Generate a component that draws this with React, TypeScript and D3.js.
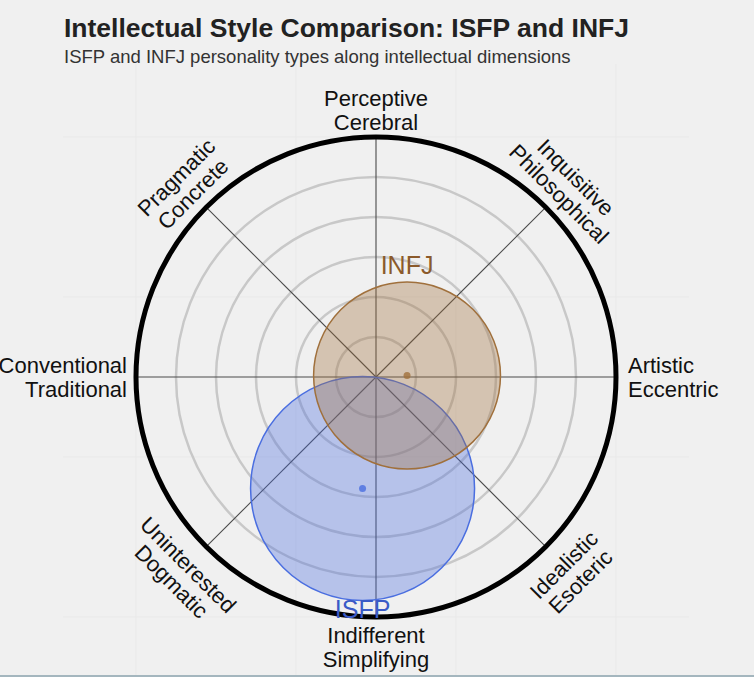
import React from "react";
import * as d3 from "d3";

// ---- data ----
const dimensionLabels: string[][] = [
  ["Artistic", "Eccentric"],
  ["Inquisitive", "Philosophical"],
  ["Perceptive", "Cerebral"],
  ["Pragmatic", "Concrete"],
  ["Conventional", "Traditional"],
  ["Uninterested", "Dogmatic"],
  ["Indifferent", "Simplifying"],
  ["Idealistic", "Esoteric"],
];
const axisAngles = [0, 45, 90, 135, 180, 225, 270, 315];
const ringLevels = [0.25, 0.5, 0.75, 1.0, 1.25];
const outerLevel = 1.5;
const gridLevels = [-1.5, -0.5, 0.5, 1.5];

const typeNames = ["INFJ", "ISFP"];
const typeX = [0.194, -0.084];
const typeY = [0.009, -0.697];
const typeR = [0.584, 0.7];
const typeColors = ["#a0703c", "#4a6ee0"];
const typeTextColors = ["#8b5a2b", "#3a5bc7"];
const drawOrder = [1, 0];

const W = 754;
const H = 677;
const cx = 376;
const cy = 377;

export default function App() {
  const r = d3.scaleLinear().domain([0, outerLevel]).range([0, 240]);
  const px = (v: number) => cx + r(v);
  const py = (v: number) => cy - r(v);
  const font = "'Liberation Sans', Arial, sans-serif";
  const rad = (a: number) => (a * Math.PI) / 180;

  const labelEls = dimensionLabels.map((lines, i) => {
    const a = axisAngles[i];
    const fs = 22;
    const lh = 23.5;
    if (a === 0 || a === 180) {
      const x = a === 0 ? cx + 252 : cx - 249;
      return (
        <text key={i} fontFamily={font} fontSize={fs} fill="#111" textAnchor={a === 0 ? "start" : "end"}>
          {lines.map((l, j) => (
            <tspan key={j} x={x} y={cy - 4 + j * lh}>{l}</tspan>
          ))}
        </text>
      );
    }
    if (a === 90 || a === 270) {
      const y0 = a === 90 ? cy - 271 : cy + 266;
      return (
        <text key={i} fontFamily={font} fontSize={fs} fill="#111" textAnchor="middle">
          {lines.map((l, j) => (
            <tspan key={j} x={cx} y={y0 + j * lh}>{l}</tspan>
          ))}
        </text>
      );
    }
    const rr = a < 180 ? 271 : 277;
    const bx = cx + rr * Math.cos(rad(a));
    const by = cy - rr * Math.sin(rad(a));
    const rot = a === 45 || a === 225 ? 45 : -45;
    return (
      <g key={i} transform={`translate(${bx},${by}) rotate(${rot})`}>
        <text fontFamily={font} fontSize={fs} fill="#111" textAnchor="middle" dominantBaseline="central">
          {lines.map((l, j) => (
            <tspan key={j} x={0} y={(j - 0.5) * lh}>{l}</tspan>
          ))}
        </text>
      </g>
    );
  });

  return (
    <svg width={W} height={H} style={{ position: "absolute", left: 0, top: 0 }}>
      <rect x={0} y={0} width={W} height={H} fill="#f0f0f0" />
      {/* faint background grid */}
      {gridLevels.map((g, i) => (
        <g key={i}>
          <line x1={px(g)} x2={px(g)} y1={cy - 313} y2={cy + 313} stroke="#e9e9e9" strokeWidth={1} />
          <line x1={cx - 313} x2={cx + 313} y1={py(g)} y2={py(g)} stroke="#e9e9e9" strokeWidth={1} />
        </g>
      ))}
      {/* rings */}
      {ringLevels.map((l, i) => (
        <circle key={i} cx={cx} cy={cy} r={r(l)} fill="none" stroke="#c8c8c8" strokeWidth={2.5} />
      ))}
      {/* spokes */}
      {axisAngles.map((a, i) => (
        <line key={i} x1={cx} y1={cy}
          x2={cx + r(outerLevel) * Math.cos(rad(a))}
          y2={cy - r(outerLevel) * Math.sin(rad(a))}
          stroke="#4a4a4a" strokeWidth={1.1} />
      ))}
      {/* type circles */}
      {drawOrder.map((k) => (
        <circle key={k} cx={px(typeX[k])} cy={py(typeY[k])} r={r(typeR[k])}
          fill={typeColors[k]} fillOpacity={0.35} stroke={typeColors[k]} strokeWidth={1.5} />
      ))}
      {drawOrder.map((k) => (
        <circle key={"d" + k} cx={px(typeX[k])} cy={py(typeY[k])} r={3.5}
          fill={typeColors[k]} fillOpacity={0.8} />
      ))}
      {/* outer circle */}
      <circle cx={cx} cy={cy} r={r(outerLevel)} fill="none" stroke="#000" strokeWidth={5} />
      {/* type labels */}
      <text x={px(typeX[0])} y={py(typeY[0]) - r(typeR[0]) - 8} fontFamily={font} fontSize={25}
        fill={typeTextColors[0]} textAnchor="middle">{typeNames[0]}</text>
      <text x={px(typeX[1])} y={py(typeY[1]) + r(typeR[1]) + 17} fontFamily={font} fontSize={25}
        fill={typeTextColors[1]} textAnchor="middle">{typeNames[1]}</text>
      {labelEls}
      {/* title */}
      <text x={64} y={37} fontFamily={font} fontSize={26.5} fontWeight="bold" fill="#222">
        Intellectual Style Comparison: ISFP and INFJ
      </text>
      <text x={64} y={63} fontFamily={font} fontSize={18.5} fill="#333">
        ISFP and INFJ personality types along intellectual dimensions
      </text>
      <rect x={0} y={675} width={W} height={2} fill="#a4b6be" />
    </svg>
  );
}
